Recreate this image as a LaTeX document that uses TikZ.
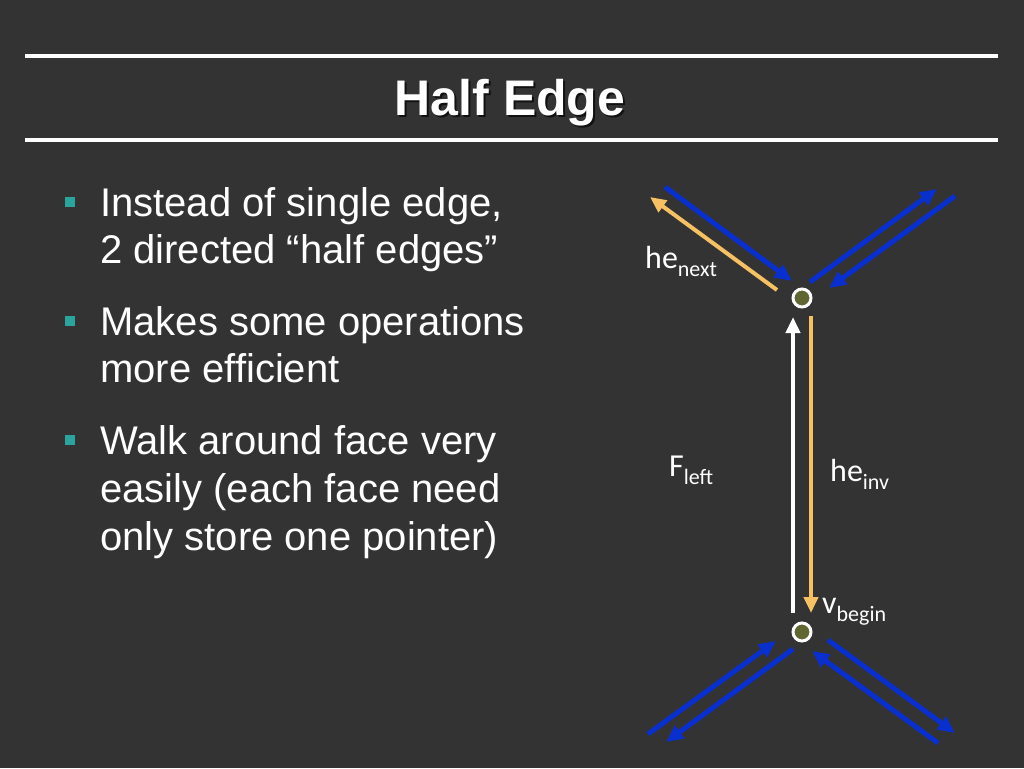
\documentclass[tikz,border=0pt]{standalone}
\usepackage{fontspec}
\setmainfont{Liberation Sans}
\newfontfamily\labfont{Carlito}
\usetikzlibrary{arrows.meta}
\definecolor{bg}{HTML}{333333}
\definecolor{hblue}{HTML}{0A2FCF}
\definecolor{hyel}{HTML}{F5C163}
\definecolor{bullet}{HTML}{2AA59E}
\definecolor{vfill}{HTML}{5F6632}
\definecolor{tshadow}{HTML}{111111}
\tikzset{
  rule/.style={white, line width=4pt},
  bodytext/.style={anchor=base west, inner sep=0pt, text=white, font=\fontsize{40}{47}\selectfont},
  bulletsq/.style={fill=bullet},
  lab/.style={anchor=base west, inner sep=0pt, text=white, font=\labfont\fontsize{32}{38}\selectfont},
  vertex/.style={circle, draw=white, line width=3pt, fill=vfill, minimum size=18pt, inner sep=0pt},
  bluearr/.style={hblue, line width=5pt, -{Triangle[length=17pt,width=15pt]}},
  yelarr/.style={hyel, line width=4pt, -{Triangle[length=16pt,width=14pt]}},
  whitearr/.style={white, line width=4pt, -{Triangle[length=16pt,width=14pt]}}
}
\newcommand{\lsub}[1]{\raisebox{-0.28em}{\fontsize{22}{26}\selectfont #1}}
\begin{document}
\begin{tikzpicture}[x=1pt,y=-1pt]
\fill[bg] (0,0) rectangle (1024,768);
\useasboundingbox (0,0) rectangle (1024,768);
% rules
\draw[rule] (25,56) -- (998,56);
\draw[rule] (25,140) -- (998,140);
% title
\node[anchor=base, inner sep=0pt, text=tshadow, font=\fontsize{50}{60}\selectfont\bfseries] (titleshadow) at (512,117) {Half Edge};
\node[anchor=base, inner sep=0pt, text=white, font=\fontsize{50}{60}\selectfont\bfseries] (title) at (510,115) {Half Edge};
% bullets
\fill[bulletsq] (65,197) rectangle (75,207);
\fill[bulletsq] (65,316) rectangle (75,326);
\fill[bulletsq] (65,435) rectangle (75,445);
\node[bodytext] (b1a) at (100,216) {Instead of single edge,};
\node[bodytext] (b1b) at (100,263) {2 directed “half edges”};
\node[bodytext] (b2a) at (100,335) {Makes some operations};
\node[bodytext] (b2b) at (100,382) {more efficient};
\node[bodytext] (b3a) at (100,454) {Walk around face very};
\node[bodytext] (b3b) at (100,502) {easily (each face need};
\node[bodytext] (b3c) at (100,550) {only store one pointer)};
% vertices
\node[vertex] (vt) at (802,298) {};
\node[vertex] (vb) at (802,632) {};
% coordinates
\coordinate (tl1s) at (665,187);  \coordinate (tl1e) at (792,281);
\coordinate (tly1) at (777,290);  \coordinate (tly2) at (650,197);
\coordinate (tr1s) at (810,282);  \coordinate (tr1e) at (937,189);
\coordinate (tr2s) at (955,196);  \coordinate (tr2e) at (829,288);
\coordinate (bl1s) at (648,734);  \coordinate (bl1e) at (776,641);
\coordinate (bl2s) at (793,649);  \coordinate (bl2e) at (666,742);
\coordinate (br1s) at (828,640);  \coordinate (br1e) at (955,733);
\coordinate (br2s) at (938,743);  \coordinate (br2e) at (812,651);
\coordinate (ws) at (793,613);    \coordinate (we) at (793,317);
\coordinate (ys) at (811,316);    \coordinate (ye) at (811,613);
% edges
\draw[bluearr] (tl1s) -- (tl1e);
\draw[yelarr] (tly1) -- (tly2);
\draw[bluearr] (tr1s) -- (tr1e);
\draw[bluearr] (tr2s) -- (tr2e);
\draw[bluearr] (bl1s) -- (bl1e);
\draw[bluearr] (bl2s) -- (bl2e);
\draw[bluearr] (br1s) -- (br1e);
\draw[bluearr] (br2s) -- (br2e);
\draw[whitearr] (ws) -- (we);
\draw[yelarr] (ys) -- (ye);
% labels
\node[lab] (henext) at (645,268) {he\lsub{next}};
\node[lab] (fleft) at (669,476) {F\lsub{left}};
\node[lab] (heinv) at (830,481) {he\lsub{inv}};
\node[lab] (vbegin) at (822,613) {v\lsub{begin}};
\end{tikzpicture}
\end{document}
